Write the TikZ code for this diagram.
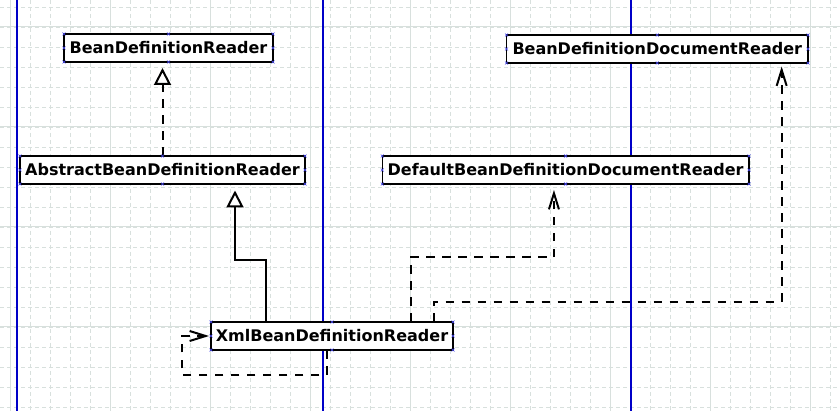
\documentclass[tikz,border=0pt]{standalone}
\usepackage{fontspec}
\setmainfont{DejaVu Sans}
\usetikzlibrary{arrows.meta,calc}
\begin{document}
\begin{tikzpicture}[x=1pt,y=-1pt,
  cls/.style={draw=black, line width=1.5pt, fill=white, inner sep=0pt, outer sep=0pt,
    minimum height=28pt, anchor=north west, font=\fontsize{16}{18}\selectfont\bfseries},
  gridminor/.style={draw={rgb,255:red,216;green,224;blue,221}, line width=0.8pt, dash pattern=on 4pt off 3pt},
  gridmajor/.style={draw={rgb,255:red,216;green,224;blue,221}, line width=1pt},
  guideline/.style={draw={rgb,255:red,0;green,0;blue,200}, line width=1.2pt},
  handle/.style={draw={rgb,255:red,70;green,70;blue,235}, line width=0.6pt},
  realize/.style={line width=2pt, dash pattern=on 8.5pt off 7.5pt,
    -{Triangle[fill=white, length=17pt, width=17pt, line width=2pt]}},
  inherit/.style={line width=2pt,
    -{Triangle[fill=white, length=17pt, width=17pt, line width=2pt]}},
  depend/.style={line width=2pt, dash pattern=on 8.5pt off 7.5pt,
    -{Straight Barb[length=16pt, width=10pt, line width=2pt]}}]
\fill[white] (0,0) rectangle (840,411);
\useasboundingbox (0,0) rectangle (840,411);
% grid
\foreach \x in {30,50,...,830} \draw[gridminor] (\x,0) -- (\x,411);
\foreach \y in {7,27,...,407} \draw[gridminor] (0,\y) -- (840,\y);
\foreach \x in {10,110,...,810} \draw[gridmajor] (\x,0) -- (\x,411);
\foreach \y in {27,127,...,327} \draw[gridmajor] (0,\y) -- (840,\y);
% guide lines
\foreach \x in {17,323,631} \draw[guideline] (\x,0) -- (\x,411);
% classes
\node[cls, minimum width=209pt] (bdr) at (64,34) {BeanDefinitionReader};
\node[cls, minimum width=301.5pt] (bddr) at (506.5,35) {BeanDefinitionDocumentReader};
\node[cls, minimum width=285pt] (abdr) at (20,156) {AbstractBeanDefinitionReader};
\node[cls, minimum width=366.7pt] (dbddr) at (382.3,156) {DefaultBeanDefinitionDocumentReader};
\node[cls, minimum width=242pt] (xbdr) at (211,322) {XmlBeanDefinitionReader};
% connectors
\draw[realize] (abdr.north) -- ($(abdr.north |- bdr.south)+(0,6)$);
\draw[inherit] ([xshift=-66pt]xbdr.north) -- ++(0,-61.5) -| ($(abdr.south east)+(-70,6.5)$);
\draw[depend] ([xshift=78.7pt]xbdr.north) -- ++(0,-64.7) -| ($(dbddr.south)+(-11.7,6)$);
\draw[depend] ([xshift=102pt]xbdr.north) -- ++(0,-20.3) -| ($(bddr.south)+(124.4,3.5)$);
\draw[depend] ([xshift=-5.3pt]xbdr.south) -- ++(0,24.7) -- ++(-145,0) |- ($(xbdr.west)+(-2,0)$);
% selection handles
\foreach \n in {bdr,bddr,abdr,dbddr,xbdr}
  \foreach \a in {north west,north,north east,east,south east,south,south west,west}
    \draw[handle] ([shift={(-1.5pt,-1.5pt)}]\n.\a) -- ++(3pt,3pt)
                  ([shift={(-1.5pt,1.5pt)}]\n.\a) -- ++(3pt,-3pt);
\end{tikzpicture}
\end{document}
